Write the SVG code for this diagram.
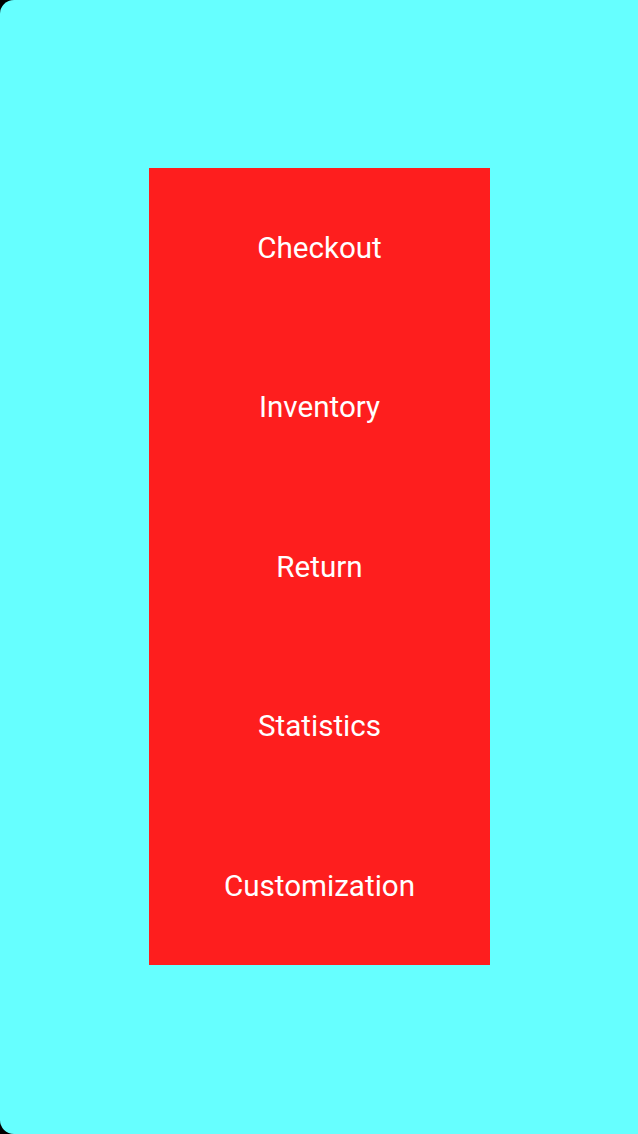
<svg xmlns="http://www.w3.org/2000/svg" width="638" height="1134" viewBox="0 0 638 1134">
<style>
.lbl{font-family:Roboto,"Liberation Sans",sans-serif;font-size:29.6px;fill:#ffffff;text-anchor:middle}
</style>
<rect x="0" y="0" width="638" height="1134" fill="#000000"/>
<path d="M14,0 H638 V1134 H14 A14,14 0 0 1 0,1120 V14 A14,14 0 0 1 14,0 Z" fill="#66ffff"/>
<rect id="panel" x="149" y="168" width="341" height="797" fill="#fe1e1e"/>
<g id="connectors"></g>
<g id="checkout"><text class="lbl" x="319.5" y="257.5">Checkout</text></g>
<g id="inventory"><text class="lbl" x="319.5" y="417">Inventory</text></g>
<g id="return"><text class="lbl" x="319.5" y="576.5">Return</text></g>
<g id="statistics"><text class="lbl" x="319.5" y="736">Statistics</text></g>
<g id="customization"><text class="lbl" x="319.5" y="895.5">Customization</text></g>
</svg>
